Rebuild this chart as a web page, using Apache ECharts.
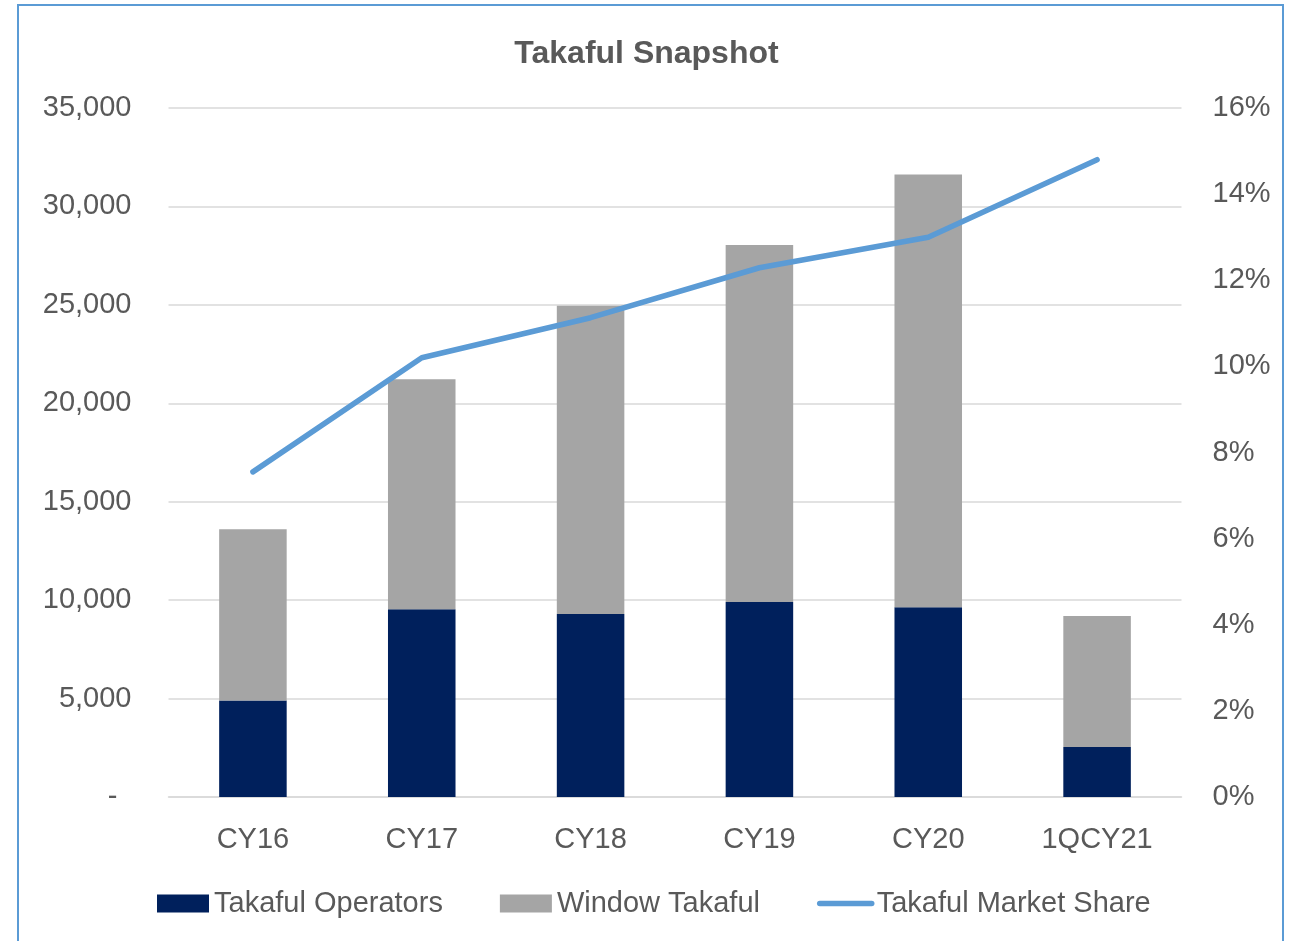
<!DOCTYPE html>
<html>
<head>
<meta charset="utf-8">
<script src="https://cdn.jsdelivr.net/npm/echarts@6/dist/echarts.min.js"></script>
<style>
html,body{margin:0;padding:0;background:#fff;}
#chart{width:1293px;height:941px;}
</style>
</head>
<body>
<div id="chart"></div>
<script>
const categories = ['CY16', 'CY17', 'CY18', 'CY19', 'CY20', '1QCY21'];
const takafulOperators = [4900, 9540, 9300, 9900, 9640, 2540];
const windowTakafulTotal = [13600, 21220, 24950, 28040, 31620, 9200];
const windowTakaful = windowTakafulTotal.map((t, i) => t - takafulOperators[i]);
const marketShare = [7.55, 10.2, 11.13, 12.29, 13.0, 14.8];
const leftTicks = { min: 0, max: 35000, interval: 5000 };
const rightTicks = { min: 0, max: 16, interval: 2 };

const FONT = 'Liberation Sans, Arial, sans-serif';
const TXT = '#595959';
const GRID = '#D9D9D9';
const LINE = '#5B9BD5';

const chart = echarts.init(document.getElementById('chart'));
chart.setOption({
  backgroundColor: '#fff',
  animation: false,
  textStyle: { fontFamily: FONT },
  title: {
    text: 'Takaful Snapshot',
    left: 'center',
    top: 33,
    textStyle: { fontFamily: FONT, fontSize: 32, fontWeight: 'bold', color: TXT }
  },
  graphic: [{
    type: 'rect',
    shape: { x: 18, y: 5, width: 1265, height: 960 },
    style: { fill: 'none', stroke: LINE, lineWidth: 2 },
    silent: true
  }],
  legend: {
    left: 157,
    top: 889,
    padding: 0,
    itemWidth: 52,
    itemHeight: 18,
    itemGap: 57,
    textStyle: { fontFamily: FONT, fontSize: 29, color: TXT },
    data: [
      { name: 'Takaful Operators', icon: 'rect' },
      { name: 'Window Takaful', icon: 'rect' },
      {
        name: 'Takaful Market Share',
        itemStyle: { color: 'rgba(0,0,0,0)', opacity: 0, borderWidth: 0 },
        lineStyle: { color: LINE, width: 5.5, cap: 'round' }
      }
    ]
  },
  grid: { left: 168.5, right: 111.5, top: 108, bottom: 144 },
  xAxis: {
    type: 'category',
    data: categories,
    axisTick: { show: false },
    axisLine: { lineStyle: { color: GRID, width: 1.5 } },
    axisLabel: { fontFamily: FONT, fontSize: 29, color: TXT, margin: 28 }
  },
  yAxis: [{
    type: 'value',
    min: leftTicks.min, max: leftTicks.max, interval: leftTicks.interval,
    axisLine: { show: false },
    axisTick: { show: false },
    splitLine: { lineStyle: { color: GRID, width: 1.5 } },
    axisLabel: {
      fontFamily: FONT, fontSize: 29, color: TXT, margin: 37,
      formatter: v => v === 0 ? '{d|-}' : v.toLocaleString('en-US'),
      rich: { d: { fontFamily: FONT, fontSize: 29, color: TXT, padding: [0, 14, 0, 0] } }
    }
  }, {
    type: 'value',
    min: rightTicks.min, max: rightTicks.max, interval: rightTicks.interval,
    position: 'right',
    axisLine: { show: false },
    axisTick: { show: false },
    splitLine: { show: false },
    axisLabel: { fontFamily: FONT, fontSize: 29, color: TXT, margin: 31, formatter: v => v + '%' }
  }],
  series: [{
    name: 'Takaful Operators',
    type: 'bar',
    stack: 'total',
    barWidth: '40%',
    itemStyle: { color: '#00205C' },
    data: takafulOperators
  }, {
    name: 'Window Takaful',
    type: 'bar',
    stack: 'total',
    barWidth: '40%',
    itemStyle: { color: '#A5A5A5' },
    data: windowTakaful
  }, {
    name: 'Takaful Market Share',
    type: 'line',
    yAxisIndex: 1,
    symbol: 'none',
    showSymbol: false,
    lineStyle: { color: LINE, width: 5.5, cap: 'round', join: 'round' },
    itemStyle: { color: LINE },
    data: marketShare
  }]
});
</script>
</body>
</html>
